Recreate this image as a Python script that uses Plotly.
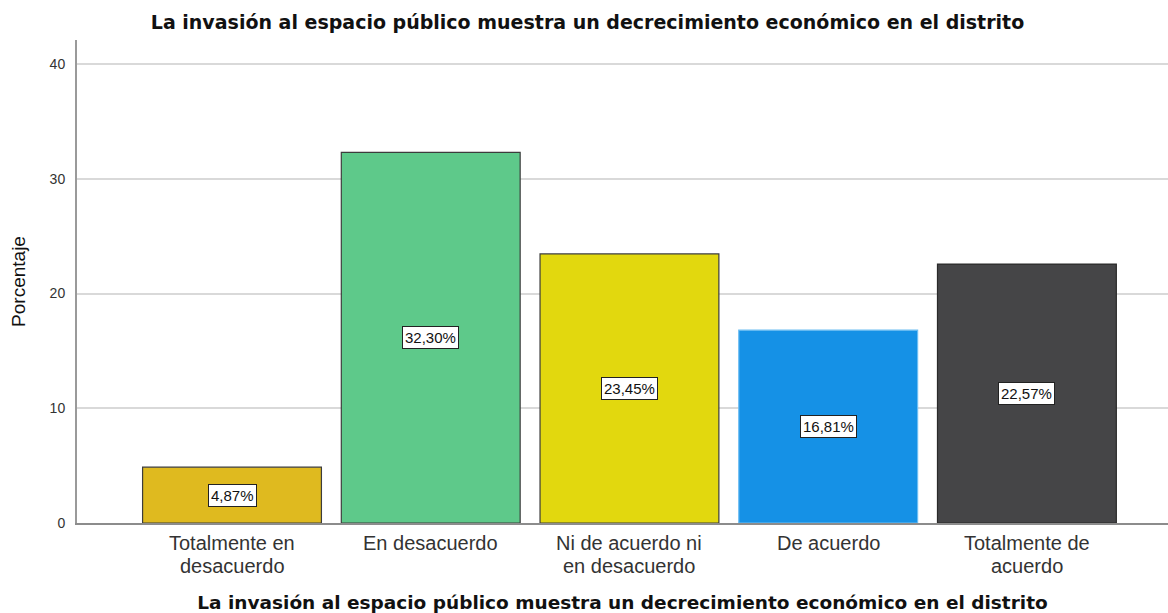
import plotly.graph_objects as go

TITLE = "La invasión al espacio público muestra un decrecimiento económico en el distrito"
categories = [
    "Totalmente en desacuerdo",
    "En desacuerdo",
    "Ni de acuerdo ni en desacuerdo",
    "De acuerdo",
    "Totalmente de acuerdo",
]
tick_lines = [
    ["Totalmente en", "desacuerdo"],
    ["En desacuerdo"],
    ["Ni de acuerdo ni", "en desacuerdo"],
    ["De acuerdo"],
    ["Totalmente de", "acuerdo"],
]
percent = [4.87, 32.30, 23.45, 16.81, 22.57]
labels = ["4,87%", "32,30%", "23,45%", "16,81%", "22,57%"]
bar_colors = ["#DFBA1F", "#5EC98A", "#E2D80E", "#1591E6", "#454547"]
edge_colors = ["#3C3C3C", "#3C3C3C", "#3C3C3C", "#6CBDF2", "#2A2A2A"]

ARIAL = "Arial, Liberation Sans, sans-serif"
WIDE_BOLD = "DejaVu Sans, Arial, sans-serif"

fig = go.Figure(
    go.Bar(
        x=categories,
        y=percent,
        marker_color=bar_colors,
        marker_line=dict(color=edge_colors, width=1.2),
        hoverinfo="x+y",
        showlegend=False,
    )
)

# value boxes in the middle of each bar
for cat, val, lab in zip(categories, percent, labels):
    fig.add_annotation(
        x=cat, y=val / 2, text=lab, showarrow=False,
        font=dict(family=ARIAL, size=15, color="#111"),
        bgcolor="white", bordercolor="#222", borderwidth=1, borderpad=2,
    )

# category labels with tight line spacing
for cat, lines in zip(categories, tick_lines):
    for i, line in enumerate(lines):
        fig.add_annotation(
            x=cat, y=0, yref="y", text=line, showarrow=False,
            yanchor="middle", yshift=-20 - 22.5 * i,
            font=dict(family=ARIAL, size=20, color="#333"),
        )

fig.update_layout(
    width=1168, height=613,
    margin=dict(l=77, r=0, t=40, b=90),
    paper_bgcolor="white", plot_bgcolor="white",
    bargap=0.1,
    font=dict(family=ARIAL, color="#222"),
    title=dict(
        text=f"<b>{TITLE}</b>", x=0.503, xanchor="center",
        y=0.963, yanchor="middle",
        font=dict(family=WIDE_BOLD, size=19, color="#111"),
    ),
    xaxis=dict(
        range=[-0.78, 4.71],
        showline=True, linecolor="#8C8C8C", linewidth=2,
        showgrid=False, ticks="", showticklabels=False,
        title=dict(
            text=f"<b>{TITLE}</b>", standoff=74,
            font=dict(family=WIDE_BOLD, size=18.5, color="#111"),
        ),
        automargin=False,
    ),
    yaxis=dict(
        range=[0, 42.1],
        tickvals=[0, 10, 20, 30, 40],
        showline=True, linecolor="#9A9A9A", linewidth=2,
        showgrid=True, gridcolor="#D9D9D9", gridwidth=2,
        zeroline=False, ticks="", ticklabelstandoff=7,
        tickfont=dict(size=14, color="#333"),
        title=dict(text="Porcentaje", font=dict(size=19, color="#111"), standoff=19),
        automargin=False,
    ),
)

fig.write_html(
    "out.html",
    config={"displayModeBar": False},
    post_script="document.body.style.margin = '0';",
)
